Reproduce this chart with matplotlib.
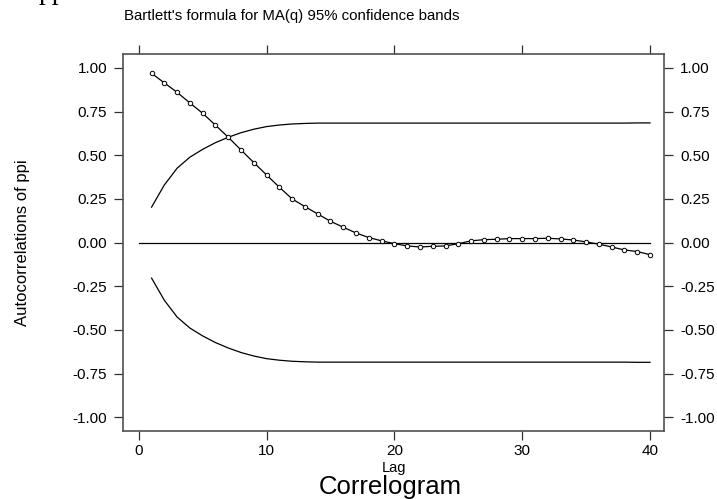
import numpy as np
import matplotlib
matplotlib.use("Agg")
import matplotlib.pyplot as plt

# Data
lags = list(range(1, 41))
acf = [0.969, 0.914, 0.860, 0.799, 0.740, 0.672, 0.603, 0.530, 0.458, 0.387,
       0.317, 0.250, 0.206, 0.164, 0.122, 0.088, 0.055, 0.029, 0.010, -0.006,
       -0.019, -0.025, -0.021, -0.019, -0.006, 0.010, 0.017, 0.019, 0.023, 0.023,
       0.023, 0.025, 0.021, 0.015, 0.004, -0.009, -0.025, -0.042, -0.051, -0.069]
band = [0.203, 0.330, 0.426, 0.489, 0.534, 0.572, 0.603, 0.629, 0.649, 0.664,
        0.673, 0.679, 0.682, 0.684, 0.684, 0.684, 0.684, 0.684, 0.684, 0.684,
        0.684, 0.684, 0.684, 0.684, 0.684, 0.684, 0.684, 0.684, 0.684, 0.684,
        0.684, 0.684, 0.684, 0.684, 0.684, 0.684, 0.684, 0.684, 0.685, 0.685]
xticks = [0, 10, 20, 30, 40]
yticks = [-1.0, -0.75, -0.5, -0.25, 0.0, 0.25, 0.5, 0.75, 1.0]

plt.rcParams["font.family"] = ["Liberation Sans", "DejaVu Sans"]

fig = plt.figure(figsize=(7.17, 4.99), dpi=100)
ax = fig.add_axes([0.172, 0.137, 0.7545, 0.755])

lower = [-b for b in band]
ax.plot(lags, band, color="black", lw=0.9)
ax.plot(lags, lower, color="black", lw=0.9)
ax.plot([0, 40], [0, 0], color="black", lw=0.9)
ax.plot(lags, acf, color="black", lw=0.9, marker="o", ms=3.2,
        mfc="white", mec="black", mew=0.7)

ax.set_xlim(-1.21, 41.12)
ax.set_ylim(-1.076, 1.08)

for s in ax.spines.values():
    s.set_color("#505050")
    s.set_linewidth(1.2)

ax.set_xticks(xticks)
ax.set_yticks(yticks)
ax.set_yticklabels(["%.2f" % v for v in yticks])
ax.tick_params(axis="both", direction="out", length=6.5, width=0.9,
               color="#303030", labelsize=11, pad=5)
ax.tick_params(axis="x", top=True, labeltop=False, pad=3)
ax.tick_params(axis="y", right=True, labelright=True)

ax.set_xlabel("Lag", fontsize=10.5, labelpad=2)
ax.set_ylabel("Autocorrelations of ppi", fontsize=12, labelpad=31)

fig.text(0.1725, 0.968, "Bartlett's formula for MA(q) 95% confidence bands",
         fontsize=10.8, ha="left", va="center")
fig.text(0.545, 0.025, "Correlogram", fontsize=18.5, ha="center", va="center")
# large serif title, mostly cropped off at the top of the image
fig.text(39 / 717, 1 + 1 / 499, "ppi", family="Liberation Serif",
         fontsize=20, ha="left", va="baseline")

fig.savefig("out.png", dpi=100)
